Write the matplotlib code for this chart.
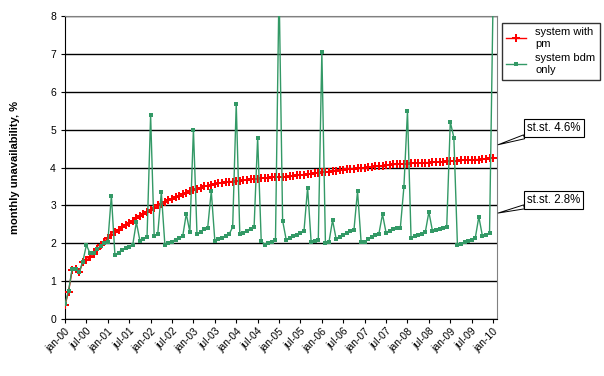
import matplotlib
matplotlib.use("Agg")
import matplotlib.pyplot as plt

plt.rcParams['font.family'] = ['Liberation Sans', 'DejaVu Sans']

# monthly values, jan-00 .. jan-10
with_pm = [
    0.37, 0.73, 1.30, 1.33, 1.24, 1.50, 1.56, 1.63, 1.72, 1.84,
    1.95, 2.05, 2.14, 2.22, 2.29, 2.36, 2.42, 2.48, 2.54, 2.60,
    2.66, 2.72, 2.77, 2.83, 2.88, 2.94, 3.00, 3.05, 3.10, 3.14,
    3.18, 3.21, 3.25, 3.29, 3.33, 3.37, 3.41, 3.44, 3.47, 3.50,
    3.52, 3.54, 3.57, 3.59, 3.60, 3.62, 3.63, 3.63, 3.64, 3.65,
    3.66, 3.67, 3.69, 3.70, 3.71, 3.72, 3.73, 3.73, 3.74, 3.75,
    3.75, 3.76, 3.76, 3.77, 3.78, 3.79, 3.80, 3.81, 3.83, 3.84,
    3.85, 3.86, 3.87, 3.88, 3.89, 3.90, 3.91, 3.93, 3.94, 3.95,
    3.96, 3.97, 3.98, 3.99, 4.00, 4.01, 4.02, 4.03, 4.04, 4.05,
    4.06, 4.07, 4.08, 4.08, 4.09, 4.10, 4.10, 4.11, 4.11, 4.12,
    4.12, 4.13, 4.13, 4.14, 4.14, 4.15, 4.15, 4.16, 4.17, 4.17,
    4.18, 4.19, 4.19, 4.20, 4.20, 4.21, 4.21, 4.22, 4.23, 4.24,
    4.25,
]

bdm_only = [
    0.40, 0.75, 1.33, 1.33, 1.25, 1.52, 1.96, 1.74, 1.74, 1.84,
    1.93, 2.00, 2.03, 3.26, 1.69, 1.76, 1.83, 1.88, 1.91, 1.97,
    2.56, 2.07, 2.11, 2.18, 5.38, 2.19, 2.25, 3.35, 1.96, 2.00,
    2.05, 2.10, 2.14, 2.19, 2.78, 2.30, 5.00, 2.25, 2.30, 2.38,
    2.41, 3.38, 2.07, 2.11, 2.15, 2.19, 2.24, 2.43, 5.68, 2.25,
    2.28, 2.33, 2.39, 2.42, 4.79, 2.07, 1.96, 2.00, 2.05, 2.10,
    8.80, 2.60, 2.10, 2.14, 2.19, 2.23, 2.28, 2.34, 3.47, 2.03,
    2.07, 2.10, 7.05, 2.00, 2.04, 2.61, 2.12, 2.18, 2.23, 2.28,
    2.33, 2.36, 3.38, 2.04, 2.04, 2.11, 2.16, 2.21, 2.26, 2.77,
    2.28, 2.34, 2.37, 2.40, 2.41, 3.49, 5.49, 2.15, 2.19, 2.23,
    2.26, 2.30, 2.83, 2.33, 2.36, 2.39, 2.41, 2.44, 5.20, 4.79,
    1.96, 1.99, 2.03, 2.07, 2.10, 2.14, 2.70, 2.20, 2.23, 2.27,
    8.50,
]

tick_labels = ['jan-00', 'jul-00', 'jan-01', 'jul-01', 'jan-02', 'jul-02',
               'jan-03', 'jul-03', 'jan-04', 'jul-04', 'jan-05', 'jul-05',
               'jan-06', 'jul-06', 'jan-07', 'jul-07', 'jan-08', 'jul-08',
               'jan-09', 'jul-09', 'jan-10']

months = list(range(len(with_pm)))
green = '#339966'

fig = plt.figure(figsize=(6.04, 3.76), dpi=100)
ax = fig.add_axes([0.1076, 0.1508, 0.7147, 0.8074])

ax.plot(months, with_pm, color='red', lw=1, marker='P', ms=5.5, mew=0,
        label='system with\npm', zorder=3)
ax.plot(months, bdm_only, color=green, lw=1, marker='s', ms=3.3, mew=0,
        label='system bdm\nonly', zorder=4)

ax.set_xlim(0, 121)
ax.set_ylim(0, 8)
ax.set_yticks(range(9))
ax.set_xticks(range(0, 121, 6))
ax.set_xticklabels(tick_labels, rotation=45, ha='right', rotation_mode='anchor',
                   fontsize=7.5)
ax.tick_params(axis='y', labelsize=7.5, length=3)
ax.tick_params(axis='x', length=3, pad=2)
ax.grid(axis='y', color='black', lw=1)
ax.set_axisbelow(True)
for s in ['top', 'right']:
    ax.spines[s].set_color('#808080')
ax.set_ylabel('monthly unavailability, %', fontsize=8, fontweight='bold')
ax.yaxis.set_label_coords(-0.105, 0.5)

ax.legend(loc='upper left', bbox_to_anchor=(1.012, 0.976), borderaxespad=0,
          fontsize=8, frameon=True, fancybox=False, edgecolor='black',
          handlelength=1.8, borderpad=0.4, labelspacing=0.4)

for val, txt_y, txt in [(4.6, 5.05, 'st.st. 4.6%'), (2.8, 3.15, 'st.st. 2.8%')]:
    ax.annotate(txt, xy=(121.4, val), xytext=(129.6, txt_y),
                ha='left', va='center', fontsize=8.3, annotation_clip=False,
                bbox=dict(boxstyle='square,pad=0.25', fc='white', ec='black', lw=0.8),
                arrowprops=dict(arrowstyle='wedge,tail_width=0.35', fc='white',
                                ec='black', lw=0.7, shrinkA=0, shrinkB=0))

fig.savefig('out.png', dpi=100)
